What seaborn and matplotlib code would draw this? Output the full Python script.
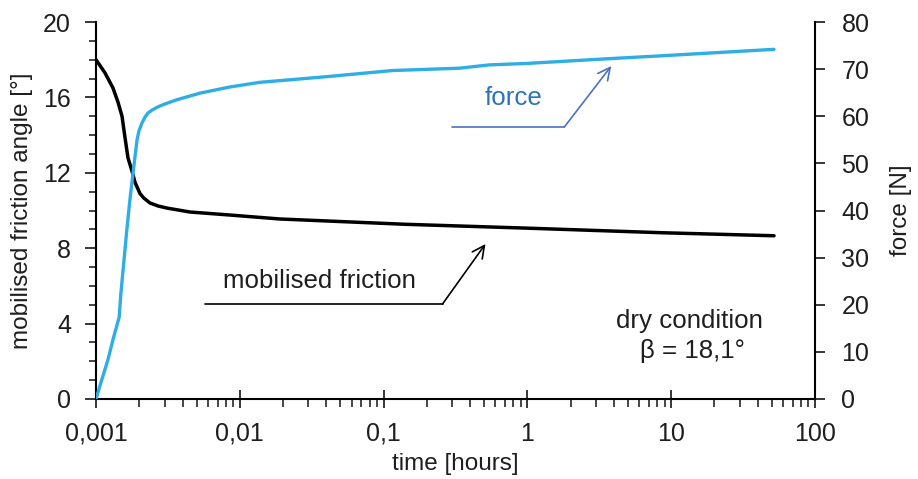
import matplotlib
matplotlib.use("Agg")
import matplotlib.pyplot as plt
import matplotlib.ticker as mticker
import numpy as np
import pandas as pd
import seaborn as sns

# mobilised friction angle [°] over time [hours]
friction_time = [0.001, 0.001155, 0.001312, 0.001422, 0.001517, 0.001589, 0.001668,
                 0.001778, 0.001866, 0.002022, 0.00215, 0.002371, 0.00270, 0.003111,
                 0.004498, 0.008532, 0.01897, 0.14, 1.03, 8.66, 51.9]
friction_angle = [18.0, 17.3, 16.5, 15.75, 15.0, 13.9, 12.8,
                  12.1, 11.5, 10.9, 10.66, 10.4, 10.24, 10.13,
                  9.92, 9.76, 9.55, 9.27, 9.06, 8.82, 8.66]

# measured force [N] over time [hours]
force_time = [0.001, 0.001095, 0.00121, 0.00131, 0.00145, 0.00149, 0.00155,
              0.00163, 0.00172, 0.00181, 0.00193, 0.00199, 0.00209, 0.00219,
              0.00230, 0.00245, 0.00270, 0.00301, 0.00365, 0.00528, 0.0085,
              0.0138, 0.0402, 0.115, 0.337, 0.545, 0.98, 3.16, 8.25, 51.9]
force_value = [0.0, 4.0, 8.3, 12.5, 17.4, 22.5, 28.0,
               35.2, 42.2, 48.0, 55.0, 56.9, 58.6, 59.8,
               60.7, 61.3, 62.0, 62.6, 63.5, 64.9, 66.2,
               67.2, 68.4, 69.7, 70.2, 70.9, 71.2, 72.1, 72.8, 74.2]

x_ticks = [0.001, 0.01, 0.1, 1, 10, 100]
x_tick_labels = ["0,001", "0,01", "0,1", "1", "10", "100"]
left_ticks = [0, 4, 8, 12, 16, 20]
right_ticks = [0, 10, 20, 30, 40, 50, 60, 70, 80]

sns.set_style("white")
plt.rcParams["font.family"] = ["Liberation Sans", "DejaVu Sans"]

TEXT = "#1e1e1e"
BLUE = "#2eaee4"
FS_TICK = 18
FS_LABEL = 17.5
FS_NOTE = 18.6

fig = plt.figure(figsize=(9.18, 4.79), dpi=100)
ax = fig.add_axes([96 / 918, 1 - 399 / 479, (815 - 96) / 918, (399 - 22) / 479])
ax2 = ax.twinx()

df_f = pd.DataFrame({"time": friction_time, "angle": friction_angle})
df_p = pd.DataFrame({"time": force_time, "force": force_value})

sns.lineplot(data=df_f, x="time", y="angle", ax=ax, color="black", linewidth=2.5,
             estimator=None, sort=False)
sns.lineplot(data=df_p, x="time", y="force", ax=ax2, color=BLUE, linewidth=2.4,
             estimator=None, sort=False)

for a in (ax, ax2):
    a.set_xscale("log")
    a.set_xlim(0.001, 100)
    a.spines["top"].set_visible(False)
    a.set_facecolor("none")
    for s in a.spines.values():
        s.set_color("black")
        s.set_linewidth(1.5)

ax.set_ylim(0, 20)
ax2.set_ylim(0, 80)
ax.spines["right"].set_visible(False)
ax2.spines["left"].set_visible(False)
ax2.spines["bottom"].set_visible(False)

ax.set_xticks(x_ticks)
ax.set_xticklabels(x_tick_labels)
ax.xaxis.set_minor_locator(mticker.LogLocator(base=10, subs=np.arange(2, 10), numticks=20))
ax.xaxis.set_minor_formatter(mticker.NullFormatter())
ax.set_yticks(left_ticks)
ax.yaxis.set_minor_locator(mticker.MultipleLocator(1))
ax2.set_yticks(right_ticks)

ax.tick_params(axis="x", which="major", direction="inout", length=13, width=1.3,
               pad=10, labelsize=FS_TICK, labelcolor=TEXT, bottom=True)
ax.tick_params(axis="x", which="minor", direction="out", length=6, width=1.2, bottom=True)
ax.tick_params(axis="y", which="major", direction="out", length=8, width=1.3,
               pad=10, labelsize=FS_TICK, labelcolor=TEXT, left=True)
ax.tick_params(axis="y", which="minor", direction="out", length=5, width=1.2, left=True)
ax2.tick_params(axis="y", which="major", direction="out", length=7, width=1.3,
                pad=12, labelsize=FS_TICK, labelcolor=TEXT, right=True)
ax2.tick_params(axis="x", which="both", bottom=False, labelbottom=False)

ax.set_xlabel("time [hours]", fontsize=FS_LABEL, color=TEXT, labelpad=5)
ax.set_ylabel("mobilised friction angle [°]", fontsize=FS_LABEL, color=TEXT, labelpad=7)
ax2.set_ylabel("force [N]", fontsize=FS_LABEL, color=TEXT, labelpad=15)

# curve annotations with leader lines
ax2.annotate("", xy=(10 ** (-3 + (612 - 96) / 144), (399 - 66) / 4.7125),
             xytext=(10 ** (-3 + (565 - 96) / 144), (399 - 127) / 4.7125),
             arrowprops=dict(arrowstyle="->", color="#4a72c0", lw=1.2,
                             mutation_scale=22, shrinkA=0, shrinkB=0))
ax2.plot([10 ** (-3 + (452 - 96) / 144), 10 ** (-3 + (565 - 96) / 144)],
         [(399 - 127) / 4.7125] * 2, color="#4a72c0", lw=1.2)
ax2.text(10 ** (-3 + (514 - 96) / 144), (399 - 98) / 4.7125, "force",
         fontsize=FS_NOTE, color="#2b74bd", ha="center", va="center")

ax.annotate("", xy=(10 ** (-3 + (486 - 96) / 144), (399 - 244) / 18.85),
            xytext=(10 ** (-3 + (443 - 96) / 144), (399 - 304) / 18.85),
            arrowprops=dict(arrowstyle="->", color="black", lw=1.2,
                            mutation_scale=22, shrinkA=0, shrinkB=0))
ax.plot([10 ** (-3 + (205 - 96) / 144), 10 ** (-3 + (443 - 96) / 144)],
        [(399 - 304) / 18.85] * 2, color="black", lw=1.2)
ax.text(10 ** (-3 + (320 - 96) / 144), (399 - 281) / 18.85, "mobilised friction",
        fontsize=FS_NOTE, color=TEXT, ha="center", va="center")

ax.text(10 ** (-3 + (690 - 96) / 144), (399 - 321) / 18.85, "dry condition",
        fontsize=FS_NOTE, color=TEXT, ha="center", va="center")
ax.text(10 ** (-3 + (693 - 96) / 144), (399 - 351) / 18.85, "β = 18,1°",
        fontsize=FS_NOTE, color=TEXT, ha="center", va="center")

fig.savefig("out.png", dpi=100, facecolor="white")
